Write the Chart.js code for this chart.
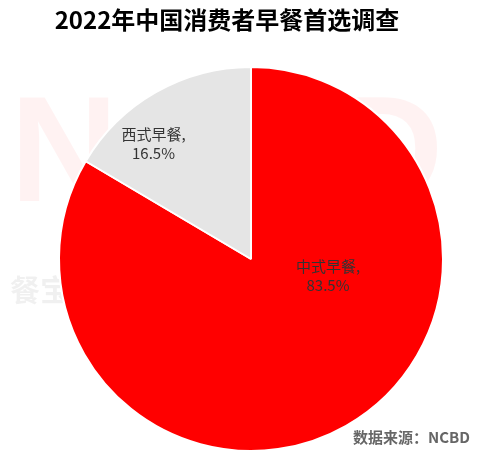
<!DOCTYPE html>
<html>
<head>
<meta charset="utf-8">
<script src="https://cdn.jsdelivr.net/npm/chart.js@4/dist/chart.umd.min.js"></script>
<style>
  body { margin: 0; background: #fff; }
  #wrap { position: relative; width: 484px; height: 465px; }
</style>
</head>
<body>
<div id="wrap"><canvas id="c" width="484" height="465"></canvas></div>
<script>
const categories = ['中式早餐', '西式早餐'];
const values = [83.5, 16.5];
const colors = ['#ff0000', '#e5e5e5'];

// label placement (angle from 12 o'clock, clockwise, and fraction of radius)
const labelPos = [[102, 0.41], [320, 0.79]];

const decor = {
  id: 'decor',
  beforeDatasetsDraw(chart) {
    const ctx = chart.ctx;
    ctx.save();
    ctx.fillStyle = 'rgba(255,0,0,0.05)';
    ctx.font = 'bold 150px "Liberation Sans", sans-serif';
    ctx.textBaseline = 'middle';
    ctx.fillText('NCBD', 10, 160);
    ctx.fillStyle = 'rgba(0,0,0,0.06)';
    ctx.font = 'bold 30px "Noto Sans CJK SC"';
    ctx.fillText('餐宝典', 10, 290);
    ctx.restore();
  },
  afterDatasetsDraw(chart) {
    const ctx = chart.ctx;
    ctx.save();
    ctx.fillStyle = '#000';
    ctx.font = 'bold 24px "Noto Sans CJK SC"';
    ctx.textAlign = 'center';
    ctx.textBaseline = 'middle';
    ctx.fillText('2022年中国消费者早餐首选调查', 227, 20);
    ctx.fillStyle = '#666';
    ctx.font = 'bold 15px "Noto Sans CJK SC"';
    ctx.textAlign = 'right';
    ctx.fillText('数据来源：NCBD', 470, 437);
    ctx.font = '15px "Noto Sans CJK SC"';
    ctx.fillStyle = '#333';
    ctx.textAlign = 'center';
    chart.getDatasetMeta(0).data.forEach((arc, i) => {
      const a = labelPos[i][0] * Math.PI / 180;
      const r = arc.outerRadius * labelPos[i][1];
      const x = arc.x + Math.sin(a) * r;
      const y = arc.y - Math.cos(a) * r;
      ctx.fillText(categories[i] + ',', x, y - 9);
      ctx.fillText(values[i].toFixed(1) + '%', x, y + 10);
    });
    ctx.restore();
  }
};

new Chart(document.getElementById('c'), {
  type: 'pie',
  data: {
    labels: categories,
    datasets: [{
      data: values,
      backgroundColor: colors,
      borderColor: '#fff',
      borderWidth: 2
    }]
  },
  options: {
    responsive: false,
    animation: false,
    layout: { padding: { top: 64, bottom: 11, left: 58, right: 40 } },
    plugins: { legend: { display: false }, tooltip: { enabled: false } }
  },
  plugins: [decor]
});
</script>
</body>
</html>
